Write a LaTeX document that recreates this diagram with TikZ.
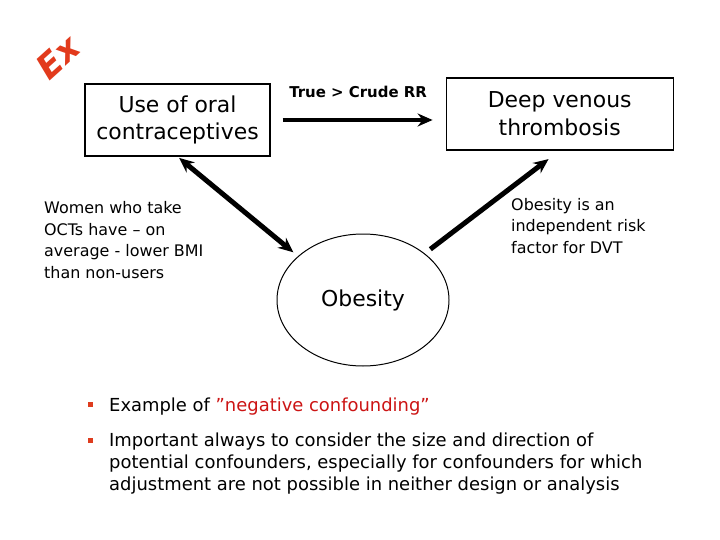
\documentclass[tikz,border=0pt]{standalone}
\usepackage{fontspec}
\setmainfont{DejaVu Sans}
\usetikzlibrary{shapes.geometric,positioning,arrows.meta}
\definecolor{exred}{RGB}{226,58,28}
\definecolor{notered}{RGB}{204,20,20}
\definecolor{bulletred}{RGB}{222,60,30}

\begin{document}
\begin{tikzpicture}[
  x=1bp, y=-1bp,
  boxnode/.style={draw,line width=1.2pt,align=center,minimum height=72bp,inner sep=0pt,font=\fontsize{22}{28}\selectfont},
  ovalnode/.style={draw,ellipse,line width=1pt,minimum width=172bp,minimum height=132bp,inner sep=0pt,font=\fontsize{22}{28}\selectfont},
  notetext/.style={align=left,inner sep=0pt,font=\fontsize{16}{21.7}\selectfont},
  bigarrow/.style={line width=5pt,-{Stealth[length=15pt,width=13pt]}},
  bullettext/.style={align=left,inner sep=0pt,anchor=base west,font=\fontsize{18}{22}\selectfont},
  bulletmark/.style={fill=bulletred,minimum size=5bp,inner sep=0pt},
  exlogo/.style={rotate=42,inner sep=0pt,font=\fontsize{34}{34}\bfseries\itshape\selectfont}
]
\path[use as bounding box,fill=white] (0,0) rectangle (720,540);

% logo
\node[exlogo,text=exred] (ex) at (58,57) {Ex};

% boxes and oval
\node[boxnode,minimum width=185bp] (oc) at (177.5,120) {Use of oral\\contraceptives};
\node[boxnode,minimum width=227bp,right=175bp of oc,yshift=6bp] (dvt) {Deep venous\\thrombosis};
\node[ovalnode] (ob) at (363,300) {Obesity};

% arrows
\draw[bigarrow,shorten <=12bp,shorten >=13bp] (oc.east) -- (oc.east -| dvt.west)
  node[midway,above=16bp,font=\fontsize{15}{15}\bfseries\selectfont] (rr) {True > Crude RR};
\draw[bigarrow,{Stealth[length=15pt,width=13pt]}-{Stealth[length=15pt,width=13pt]},shorten <=6bp,shorten >=2bp] (ob.146) -- (oc.south);
\draw[bigarrow,shorten <=7bp,shorten >=14bp] (ob.37) -- (dvt.south);

% notes
\node[notetext,anchor=west] (women) at (44,240) {Women who take\\OCTs have – on\\average - lower BMI\\than non-users};
\node[notetext,anchor=west] (risk) at (511,226) {Obesity is an\\independent risk\\factor for DVT};

% bullets
\node[bulletmark] (b1) at (90,404) {};
\node[bulletmark] (b2) at (90,440) {};
\node[bullettext] (t1) at (109,411) {Example of \textcolor{notered}{”negative confounding”}};
\node[bullettext,anchor=north west] (t2) at (109,432.5) {Important always to consider the size and direction of\\potential confounders, especially for confounders for which\\adjustment are not possible in neither design or analysis};

\end{tikzpicture}
\end{document}
